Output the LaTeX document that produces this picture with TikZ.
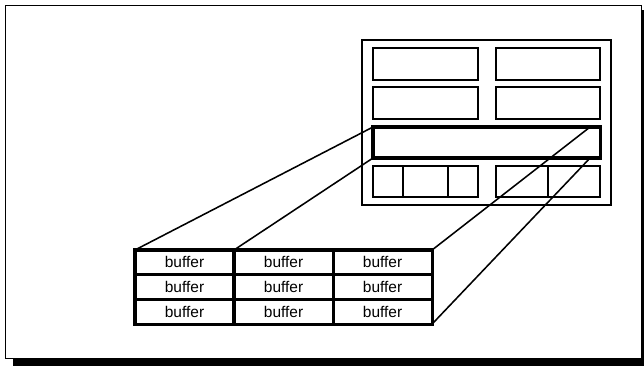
\documentclass[tikz,border=0pt]{standalone}
\usepackage{fontspec}
\setmainfont{Liberation Sans}
\usetikzlibrary{positioning,calc}

\begin{document}
\begin{tikzpicture}[
  x=0.025cm,y=-0.025cm,
  node distance=0pt,
  box/.style={rectangle,draw,line width=1.2pt,inner sep=0pt,outer sep=0pt,anchor=north west},
  cell/.style={rectangle,draw,line width=2.2pt,inner sep=0pt,outer sep=0pt,
    minimum width=2.475cm,minimum height=0.617cm,font=\fontsize{11}{12}\selectfont},
  proj/.style={line width=1.1pt}
]
\useasboundingbox (0,0) rectangle (644,366);
% frame with drop shadow
\fill (13,10) rectangle (644,366);
\draw[fill=white,line width=0.7pt] (5,5) rectangle (641,358);

% panel
\node[box,line width=1.6pt,minimum width=6.225cm,minimum height=4.125cm] (panel) at (362,40) {};
\node[box,minimum width=2.625cm,minimum height=0.8cm] (a1) at (373,48) {};
\node[box,minimum width=2.6cm,minimum height=0.8cm] (a2) at (496,48) {};
\node[box,minimum width=2.625cm,minimum height=0.8cm] (b1) at (373,87) {};
\node[box,minimum width=2.6cm,minimum height=0.8cm] (b2) at (496,87) {};
\node[box,line width=2.2pt,minimum width=5.675cm,minimum height=0.775cm] (strip) at (373,127) {};
\node[box,minimum width=0.75cm,minimum height=0.775cm] (d1) at (373,166) {};
\node[box,minimum width=1.125cm,minimum height=0.775cm,right=of d1.north east,anchor=north west] (d2) {};
\node[box,minimum width=0.75cm,minimum height=0.775cm,right=of d2.north east,anchor=north west] (d3) {};
\node[box,minimum width=1.3cm,minimum height=0.775cm] (e1) at (496,166) {};
\node[box,minimum width=1.3cm,minimum height=0.775cm,right=of e1.north east,anchor=north west] (e2) {};

% buffers
\node[cell,anchor=north west] (c11) at (135,250) {buffer};
\node[cell,right=of c11] (c12) {buffer};
\node[cell,right=of c12] (c13) {buffer};
\node[cell,below=of c11] (c21) {buffer};
\node[cell,right=of c21] (c22) {buffer};
\node[cell,right=of c22] (c23) {buffer};
\node[cell,below=of c21] (c31) {buffer};
\node[cell,right=of c31] (c32) {buffer};
\node[cell,right=of c32] (c33) {buffer};

% projection
\draw[proj] (c11.north west) -- (strip.north west);
\draw[proj] (c11.north east) -- (strip.south west);
\draw[proj] (c13.north east) -- ($(strip.north east)+(-10,0)$);
\draw[proj] (c33.south east) -- ($(strip.south east)+(-10,0)$);
\end{tikzpicture}
\end{document}
